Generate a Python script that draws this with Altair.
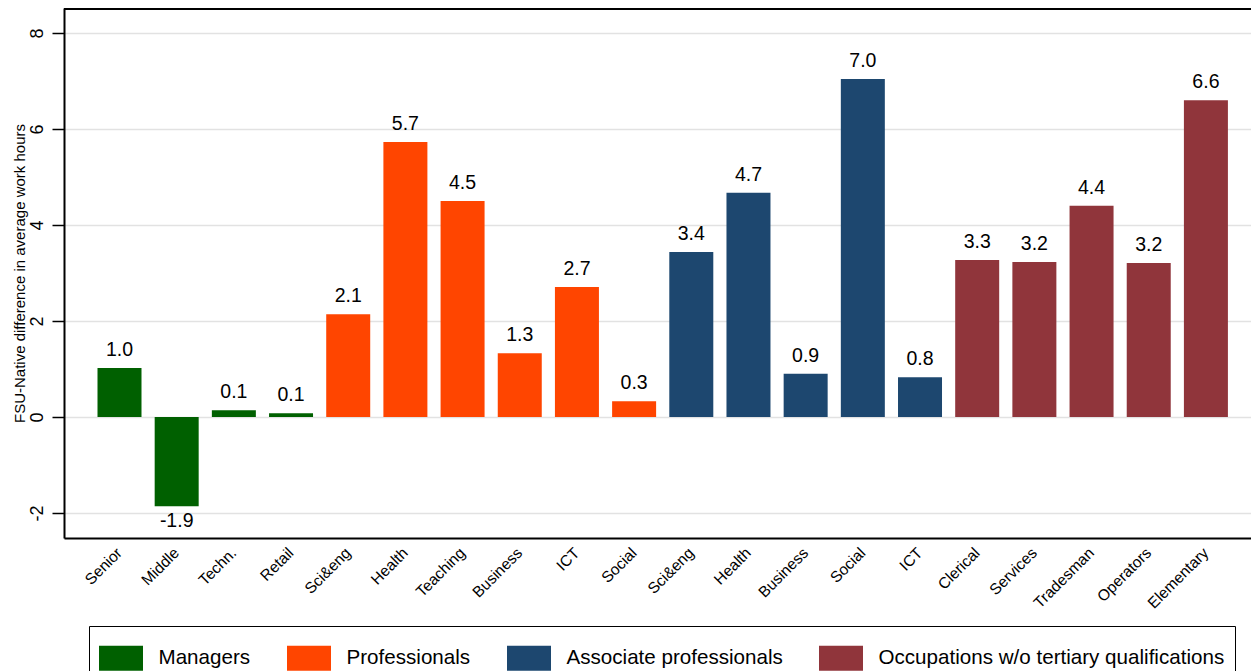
import json
import altair as alt
import pandas as pd

# ---- data ----
names = ["Senior", "Middle", "Techn.", "Retail",
         "Sci&eng", "Health", "Teaching", "Business", "ICT", "Social",
         "Sci&eng", "Health", "Business", "Social", "ICT",
         "Clerical", "Services", "Tradesman", "Operators", "Elementary"]
values = [1.02, -1.86, 0.14, 0.08,
          2.14, 5.73, 4.50, 1.33, 2.71, 0.33,
          3.44, 4.67, 0.90, 7.04, 0.83,
          3.27, 3.23, 4.40, 3.21, 6.60]
groups = (["Managers"] * 4 + ["Professionals"] * 6 +
          ["Associate professionals"] * 5 +
          ["Occupations w/o tertiary qualifications"] * 5)
group_order = ["Managers", "Professionals", "Associate professionals",
               "Occupations w/o tertiary qualifications"]
group_colors = ["#006000", "#ff4500", "#1d476f", "#90353b"]
y_ticks = [-2, 0, 2, 4, 6, 8]

df = pd.DataFrame({"idx": list(range(len(names))), "name": names,
                   "value": values, "group": groups})

FONT = "Liberation Sans"
W, H = 1187, 530

label_expr = json.dumps(names) + "[datum.value]"

x_enc = alt.X("idx:O",
              scale=alt.Scale(paddingInner=0.2305, paddingOuter=0.4948, align=0.592),
              axis=alt.Axis(title=None, labelExpr=label_expr, labelAngle=315,
                            labelAlign="right", labelBaseline="top",
                            labelOffset=-5,
                            labelFontSize=15.5, labelFont=FONT, labelColor="black",
                            ticks=False, tickSize=0, labelPadding=7,
                            domainColor="black", domainWidth=2, grid=False))
y_enc = alt.Y("value:Q",
              scale=alt.Scale(domain=[-2.52, 8.52], nice=False, zero=False),
              axis=alt.Axis(values=y_ticks, labelAngle=270, labelAlign="center",
                            labelBaseline="bottom", labelFontSize=18,
                            labelExpr="replace(datum.label, '\u2212', '-')",
                            labelFont=FONT, labelColor="black", labelPadding=6,
                            tickSize=12, tickColor="black", tickWidth=1.5,
                            domainColor="black", domainWidth=2,
                            grid=True, gridColor="#e2e2e2", gridWidth=1.5,
                            title="FSU-Native difference in average work hours",
                            titleFont=FONT, titleFontSize=15,
                            titleFontWeight="normal", titleColor="black",
                            titleAngle=270, titleX=-45, titleY=H / 2,
                            titleAlign="center", titleBaseline="middle"))

color_enc = alt.Color("group:N",
                      scale=alt.Scale(domain=group_order, range=group_colors),
                      legend=alt.Legend(orient="none", legendX=25, legendY=618,
                                        direction="horizontal", columns=4,
                                        title=None, labelLimit=0,
                                        symbolType="M-1,-0.568L1,-0.568L1,0.568L-1,0.568Z",
                                        symbolSize=1936, symbolStrokeWidth=0,
                                        symbolOpacity=1,
                                        labelFontSize=20.6, labelFont=FONT,
                                        labelColor="black", labelOffset=15.5,
                                        columnPadding=36, padding=10,
                                        strokeColor="black"))

base = alt.Chart(df).transform_calculate(
    lbl="replace(format(datum.value, '.1f'), '\u2212', '-')")

bars = base.mark_bar().encode(x=x_enc, y=y_enc, color=color_enc)

text_pos = base.transform_filter("datum.value >= 0").mark_text(
    fontSize=19.5, font=FONT, color="black", baseline="alphabetic", dy=-12
).encode(x=alt.X("idx:O"), y=alt.Y("value:Q"), text="lbl:N")

text_neg = base.transform_filter("datum.value < 0").mark_text(
    fontSize=19.5, font=FONT, color="black", baseline="top", dy=6
).encode(x=alt.X("idx:O"), y=alt.Y("value:Q"), text="lbl:N")

top_rule = alt.Chart(df).mark_rule(color="black", strokeWidth=3).encode(
    x=alt.value(0), x2=alt.value(W), y=alt.value(0))

chart = alt.layer(bars, text_pos, text_neg, top_rule).properties(
    width=W, height=H,
    padding={"left": 56, "top": 0, "right": 0, "bottom": 133},
    autosize=alt.AutoSizeParams(type="none"),
).configure_view(stroke=None).configure(font=FONT)

chart.save("out.html", embed_options={"renderer": "svg", "actions": False})
